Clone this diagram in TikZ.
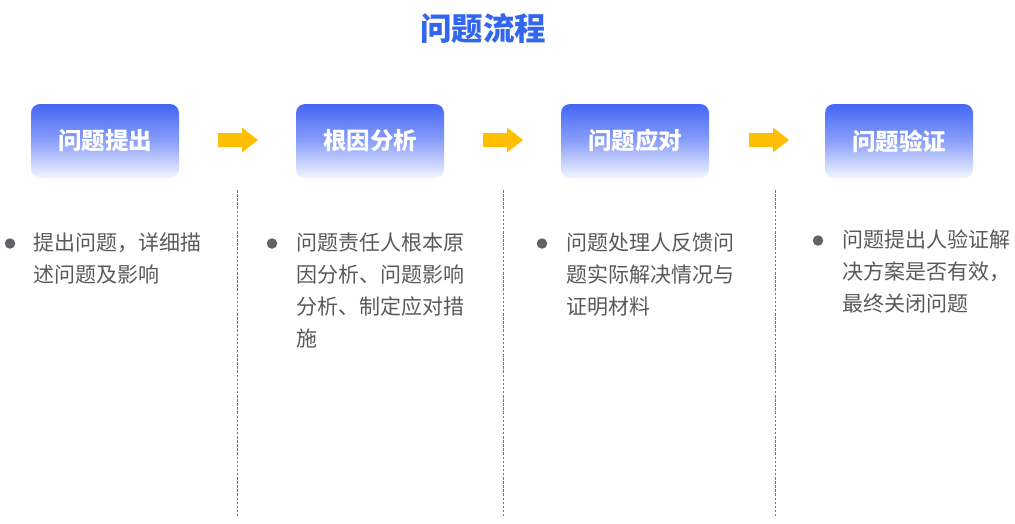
\documentclass[tikz,border=0pt]{standalone}
\usepackage{fontspec}
\setmainfont{Noto Sans CJK SC}
\newfontfamily\cjk{Noto Sans CJK SC}
\definecolor{titleblue}{HTML}{3366EE}
\definecolor{boxtop}{HTML}{4566F5}
\definecolor{boxbot}{HTML}{F2F5FF}
\definecolor{arrowyellow}{HTML}{FFBF00}
\definecolor{textgray}{HTML}{595959}
\definecolor{dotgray}{HTML}{5F6368}
\definecolor{dashcol}{HTML}{5A7AAE}
\begin{document}
\begin{tikzpicture}[x=1pt,y=-1pt,
  stepbox/.style={rounded corners=9pt, minimum width=148pt, minimum height=74pt,
    top color=boxtop, bottom color=boxbot, middle color=boxtop!60!boxbot, inner sep=0pt,
    text=white, font=\cjk\bfseries\fontsize{23.5}{23.5}\selectfont},
  arrowfill/.style={fill=arrowyellow, draw=none},
  bullettext/.style={anchor=north west, inner sep=0pt, align=left, text=textgray,
    font=\cjk\fontsize{21}{32}\selectfont},
  dotmark/.style={circle, fill=dotgray, inner sep=0pt, minimum size=10.5pt},
  sep/.style={draw=dashcol, line width=1pt, dash pattern=on 2.5pt off 1.6pt}
]
\useasboundingbox (0,0) rectangle (1015,523);
\node[text=titleblue, font=\cjk\bfseries\fontsize{31.5}{31.5}\selectfont] (title) at (483,28) {问题流程};

\node[stepbox] (b1) at (105,141) {问题提出};
\node[stepbox] (b2) at (370,141) {根因分析};
\node[stepbox] (b3) at (635,141) {问题应对};
\node[stepbox] (b4) at (899,141) {问题验证};

\foreach \n/\x in {a1/218, a2/483, a3/749}{
  \coordinate (\n) at (\x,140);
  \fill[arrowfill] (\n) ++(0,-7) -- ++(24,0) -- ++(0,-5.5) -- ++(16,12.5) -- ++(-16,12.5)
     -- ++(0,-5.5) -- ++(-24,0) -- cycle;
}

\coordinate (s1t) at (237,190); \coordinate (s1b) at (237,517);
\coordinate (s2t) at (503,190); \coordinate (s2b) at (503,517);
\coordinate (s3t) at (775,190); \coordinate (s3b) at (775,517);
\draw[sep] (s1t) -- (s1b);
\draw[sep] (s2t) -- (s2b);
\draw[sep] (s3t) -- (s3b);

\node[dotmark] (d1) at (10,243.5) {};
\node[dotmark] (d2) at (272,243.5) {};
\node[dotmark] (d3) at (542,243.5) {};
\node[dotmark] (d4) at (818,240.5) {};

\node[bullettext] (t1) at (33,232.5) {提出问题，详细描\\述问题及影响};
\node[bullettext] (t2) at (296,232.5) {问题责任人根本原\\因分析、问题影响\\分析、制定应对措\\施};
\node[bullettext] (t3) at (566,232.5) {问题处理人反馈问\\题实际解决情况与\\证明材料};
\node[bullettext] (t4) at (842,229.5) {问题提出人验证解\\决方案是否有效，\\最终关闭问题};
\end{tikzpicture}
\end{document}
